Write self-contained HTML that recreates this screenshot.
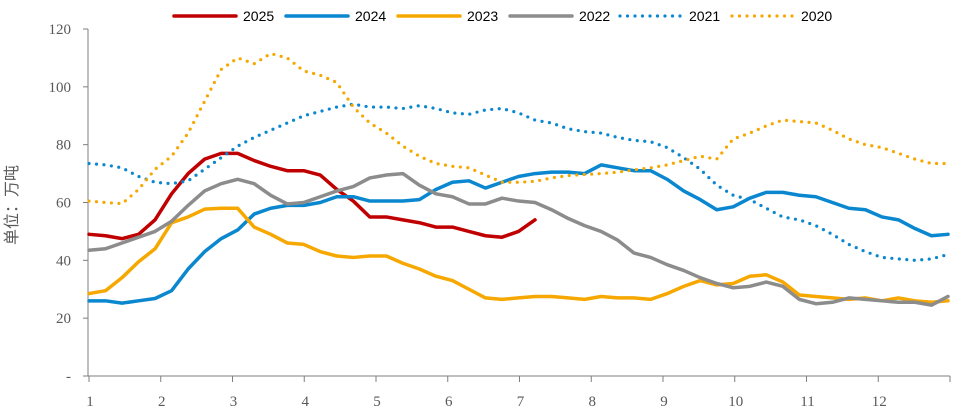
<!DOCTYPE html>
<html><head><meta charset="utf-8"><style>
body{margin:0;background:#fff;}
svg{display:block;}
</style></head><body>
<svg id="chart" width="960" height="415">
<text x="17" y="205" transform="rotate(-90 17 205)" text-anchor="middle" font-family="'Liberation Sans','Noto Sans CJK SC',sans-serif" font-size="16" fill="#595959">单位：万吨</text>
<g id="axes"></g><g id="series"></g><g id="legend"></g>
</svg>
<script>
const weeks = Array.from({length:53},(_, i)=>i);
const yTicks = [0,20,40,60,80,100,120];
const yTickLabels = ['-','20','40','60','80','100','120'];
const xTicks = [1,2,3,4,5,6,7,8,9,10,11,12];
const seriesNames = ['2025','2024','2023','2022','2021','2020'];
const s2025 = [49,48.5,47.5,49,54,63,70,75,77,77,74.5,72.5,71,71,69.5,64.5,60.5,55,55,54,53,51.5,51.5,50,48.5,48,50,54];
const s2024 = [26,26,25.2,26,26.8,29.5,37,43,47.5,50.5,56,58,59,59,60,62,62,60.5,60.5,60.5,61,64.5,67,67.5,65,67,69,70,70.5,70.5,70,73,72,71,71,68,64,61,57.5,58.5,61.5,63.5,63.5,62.5,62,60,58,57.5,55,54,51,48.5,49];
const s2023 = [28.5,29.5,34,39.5,44,53,55,57.7,58,58,51.5,49,46,45.5,43,41.5,41,41.5,41.5,39,37,34.5,33,30,27,26.5,27,27.5,27.5,27,26.5,27.5,27,27,26.5,28.5,31,33,31.5,32,34.5,35,32.5,28,27.5,27,26.5,27,26,27,26,25.5,26];
const s2022 = [43.5,44,46,48,50,53.5,59,64,66.5,68,66.5,62.5,59.5,60,62,64,65.5,68.5,69.5,70,66,63,62,59.5,59.5,61.5,60.5,60,57.5,54.5,52,50,47,42.5,41,38.5,36.5,34,32,30.5,31,32.5,31,26.5,25,25.5,27,26.5,26,25.5,25.5,24.5,27.5];
const s2021 = [73.5,73,72,69,67,66.5,67.5,71.5,75.5,79.5,82.5,85,87.5,90,91.5,93,94,93,93,92.5,93.5,92.5,91,90.5,92,92.5,91,88.5,87.5,85.5,84.5,84,82.5,81.5,81,79,75.5,71.5,66,62.5,61,58,55,54,52,49,45.5,43,41,40.5,40,40.5,42];
const s2020 = [60.5,60,59.6,64.5,71.5,76,84,95,106,110,108,111.5,110,105.5,104,101.5,93,87.5,84,79.5,76,73.5,72.5,72,69.5,67,67,67.3,68.5,69.3,69.7,70,70.5,71.3,72,73,74.5,76,75,82,84,86.5,88.5,88,87.5,85,82,80,79,77,75,73.5,73.5];

const L=89,R=948,T=29,B=376;
const xW = w => L + w*(R-L)/52;
const xMonth = m => L + (m-1)*71.75;
const y = v => B - v*(B-T)/120;
const NS='http://www.w3.org/2000/svg';
function mk(tag, attrs, parent){const e=document.createElementNS(NS,tag);for(const k in attrs)e.setAttribute(k,attrs[k]);parent.appendChild(e);return e;}
const axes=document.getElementById('axes');
let e=mk('line',{x1:L-1,y1:T,x2:L-1,y2:B,stroke:'#7f7f7f','stroke-width':1},axes);


e=mk('line',{x1:L-1,y1:B,x2:950,y2:B,stroke:'#7f7f7f','stroke-width':1},axes);


yTicks.forEach((v,i)=>{
  const t=mk('line',{x1:L-6,y1:y(v),x2:L-1,y2:y(v),stroke:'#7f7f7f'},axes);
  
  
  const tx=mk('text',{x:L-18,y:y(v)+5,'text-anchor':'end','font-family':'Liberation Serif, serif','font-size':15,fill:'#595959'},axes);
  tx.textContent=yTickLabels[i];
  
  
});
xTicks.concat([13]).forEach(m=>{
  const t=mk('line',{x1:xMonth(m),y1:B,x2:xMonth(m),y2:B+6,stroke:'#7f7f7f'},axes);
  
  
});
xTicks.forEach(m=>{
  const tx=mk('text',{x:xMonth(m)+1,y:B+30,'text-anchor':'middle','font-family':'Liberation Serif, serif','font-size':15,fill:'#595959'},axes);
  tx.textContent=String(m);
  
  
});
const styles=[
 {c:'#C00000',d:null,data:s2025},
 {c:'#0A87CF',d:null,data:s2024},
 {c:'#F6A800',d:null,data:s2023},
 {c:'#8C8C8C',d:null,data:s2022},
 {c:'#0A87CF',d:'0 7.5',data:s2021},
 {c:'#F6A800',d:'0 7.5',data:s2020}
];
const sg=document.getElementById('series');
styles.forEach((s,i)=>{
  const pts=s.data.map((v,j)=>xW(weeks[j])+','+y(v)).join(' ');
  const a={points:pts,fill:'none',stroke:s.c,'stroke-width':s.d?3.2:3.5,'stroke-linejoin':'round','stroke-linecap':'round'};
  if(s.d)a['stroke-dasharray']=s.d;
  const p=mk('polyline',a,sg);
  
  
});
const lg=document.getElementById('legend');
const lx=[174,286,398,510,620,732];
seriesNames.forEach((n,i)=>{
  const s=styles[i];
  const a={x1:lx[i],y1:16,x2:lx[i]+62,y2:16,stroke:s.c,'stroke-width':s.d?3.2:3.5,'stroke-linecap':'round'};
  if(s.d)a['stroke-dasharray']=s.d;
  const l=mk('line',a,lg);
  
  
  const t=mk('text',{x:lx[i]+69,y:21,'font-family':'Liberation Sans, sans-serif','font-size':14,fill:'#000'},lg);
  t.textContent=n;
  
  
});
</script>
</body></html>
